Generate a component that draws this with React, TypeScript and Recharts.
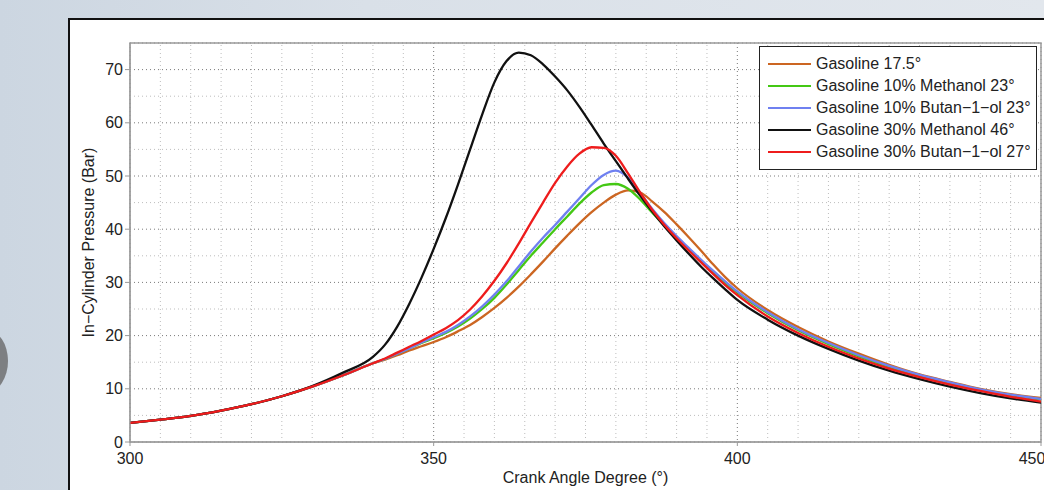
import React from "react";
import {
  CartesianGrid,
  Label,
  Legend,
  Line,
  LineChart,
  ReferenceArea,
  ReferenceLine,
  XAxis,
  YAxis,
} from "recharts";

// crank angle (deg)
const angles = [
  300, 305, 310, 315, 320, 325, 330, 335, 340,
  342, 344, 346, 348, 350, 352, 354, 356, 358, 360, 362, 364, 366, 368, 370,
  372, 374, 376, 378, 380, 382, 384, 386, 388, 390, 392, 394, 396, 398, 400,
  405, 410, 415, 420, 425, 430, 435, 440, 445, 450,
];

// in-cylinder pressure (bar)
const gasoline = [
  3.6, 4.2, 4.9, 5.9, 7.1, 8.6, 10.4, 12.5, 14.8,
  15.5, 16.3, 17.2, 18.0, 18.8, 19.7, 20.8, 22.0, 23.5, 25.2, 27.1, 29.2, 31.5, 33.9, 36.4,
  38.8, 41.1, 43.2, 45.0, 46.5, 47.3, 46.9, 45.2, 43.2, 40.9, 38.5, 36.0, 33.4, 31.0, 28.9,
  24.8, 21.6, 18.9, 16.6, 14.5, 12.7, 11.3, 10.0, 9.0, 8.3,
];
const meth10 = [
  3.6, 4.2, 4.9, 5.9, 7.1, 8.6, 10.4, 12.5, 14.8,
  15.6, 16.6, 17.6, 18.6, 19.5, 20.5, 21.7, 23.2, 25.0, 27.1, 29.6, 32.3, 35.0, 37.5, 40.0,
  42.4, 44.8, 46.9, 48.3, 48.5, 47.6, 45.6, 43.1, 40.7, 38.4, 36.2, 34.0, 31.9, 29.9, 28.1,
  24.2, 21.0, 18.4, 16.1, 14.1, 12.4, 11.0, 9.8, 8.8, 8.0,
];
const but10 = [
  3.6, 4.2, 4.9, 5.9, 7.1, 8.6, 10.4, 12.5, 14.8,
  15.6, 16.6, 17.6, 18.7, 19.7, 20.7, 22.0, 23.6, 25.5, 27.7, 30.2, 33.0, 35.8, 38.4, 40.8,
  43.3, 45.8, 48.3, 50.2, 51.0, 49.7, 46.8, 43.8, 41.1, 38.7, 36.5, 34.3, 32.2, 30.2, 28.3,
  24.4, 21.2, 18.6, 16.3, 14.3, 12.6, 11.2, 9.9, 8.9, 8.1,
];
const meth30 = [
  3.6, 4.2, 4.9, 5.9, 7.1, 8.6, 10.5, 13.0, 16.0,
  18.3, 21.7, 26.0, 30.9, 36.3, 42.1, 48.4, 55.0, 61.6, 67.6, 71.6, 73.2, 72.7, 71.0, 68.7,
  66.1, 63.0, 59.6, 56.1, 52.8, 49.5, 46.3, 43.3, 40.5, 37.9, 35.4, 33.0, 30.8, 28.7, 26.7,
  23.0, 20.0, 17.5, 15.3, 13.4, 11.8, 10.4, 9.2, 8.2, 7.4,
];
const but30 = [
  3.6, 4.2, 4.9, 5.9, 7.1, 8.6, 10.4, 12.5, 14.8,
  15.7, 16.8, 17.9, 19.0, 20.2, 21.4, 22.9, 24.9, 27.4, 30.3, 33.6, 37.3, 41.2, 45.0, 48.7,
  51.8, 54.2, 55.4, 55.3, 53.8, 50.5, 46.9, 43.6, 40.8, 38.3, 36.0, 33.8, 31.6, 29.5, 27.6,
  23.6, 20.5, 17.9, 15.7, 13.8, 12.2, 10.8, 9.6, 8.5, 7.6,
];

const xTicks = [300, 350, 400, 450];
const yTicks = [0, 10, 20, 30, 40, 50, 60, 70];
const xMinor = [305, 310, 315, 320, 325, 330, 335, 340, 345, 355, 360, 365, 370, 375, 380, 385, 390, 395, 405, 410, 415, 420, 425, 430, 435, 440, 445];
const yMinor = [5, 15, 25, 35, 45, 55, 65];

const series = [
  { key: "gasoline", name: "Gasoline 17.5°", color: "#cc6622" },
  { key: "meth10", name: "Gasoline 10% Methanol 23°", color: "#44c814" },
  { key: "but10", name: "Gasoline 10% Butan−1−ol 23°", color: "#6f80f0" },
  { key: "meth30", name: "Gasoline 30% Methanol 46°", color: "#111111" },
  { key: "but30", name: "Gasoline 30% Butan−1−ol 27°", color: "#ee1c1c" },
];

const rows = angles.map((a, i) => ({
  angle: a,
  gasoline: gasoline[i],
  meth10: meth10[i],
  but10: but10[i],
  meth30: meth30[i],
  but30: but30[i],
}));

const font = "'Liberation Sans', Arial, Helvetica, sans-serif";

function LegendBox(props: any) {
  const items = [...(props.payload || [])].sort(
    (a: any, b: any) =>
      series.findIndex((s) => s.name === a.value) - series.findIndex((s) => s.name === b.value)
  );
  return (
    <div
      style={{
        width: 276,
        border: "1px solid #222",
        background: "#fff",
        padding: "6px 0 6px 0",
        fontFamily: font,
        fontSize: 16,
        color: "#222",
      }}
    >
      {items.map((it: any) => (
        <div key={it.value} style={{ display: "flex", alignItems: "center", height: 22 }}>
          <div style={{ width: 43, height: 2.5, background: it.color, marginLeft: 8, marginRight: 5 }} />
          <span style={{ whiteSpace: "nowrap" }}>{it.value}</span>
        </div>
      ))}
    </div>
  );
}

export default function App() {
  return (
    <div
      style={{
        position: "absolute",
        left: 0,
        top: 0,
        width: 1044,
        height: 490,
        overflow: "hidden",
        background: "linear-gradient(to right, #ccd6e1 0%, #d9e0e8 35%, #e2e7ed 100%)",
      }}
    >
      <div
        style={{
          position: "absolute",
          left: -34,
          top: 330,
          width: 42,
          height: 62,
          borderRadius: "50%",
          background: "#7d7f82",
        }}
      />
      <div
        style={{
          position: "absolute",
          left: 68,
          top: 18,
          width: 1000,
          height: 500,
          background: "#fff",
          borderLeft: "2px solid #111",
          borderTop: "2px solid #111",
        }}
      />
      <div style={{ position: "absolute", left: 70, top: 20 }}>
        <LineChart
          width={974}
          height={470}
          data={rows}
          margin={{ top: 23, right: 3, left: 0, bottom: 0 }}
        >
          <CartesianGrid stroke="#7a7a7a" strokeDasharray="1 3" />
          {xMinor.map((v) => (
            <ReferenceLine key={"x" + v} x={v} stroke="#bdbdbd" strokeDasharray="1 3" />
          ))}
          {yMinor.map((v) => (
            <ReferenceLine key={"y" + v} y={v} stroke="#bdbdbd" strokeDasharray="1 3" />
          ))}
          <ReferenceArea x1={300} x2={450} y1={0} y2={75} fill="none" stroke="#9a9a9a" strokeWidth={1.5} />
          <XAxis
            dataKey="angle"
            type="number"
            domain={[300, 450]}
            ticks={xTicks}
            height={48}
            tickSize={4}
            tickMargin={7}
            stroke="#9a9a9a"
            tick={{ fill: "#222", fontSize: 16, fontFamily: font }}
            allowDataOverflow
          >
            <Label
              value="Crank Angle Degree (°)"
              position="insideBottom"
              offset={7}
              style={{ fill: "#222", fontSize: 16, fontFamily: font }}
            />
          </XAxis>
          <YAxis
            type="number"
            domain={[0, 75]}
            ticks={yTicks}
            width={60}
            tickSize={5}
            tickMargin={2}
            stroke="#9a9a9a"
            tick={{ fill: "#222", fontSize: 16, fontFamily: font }}
            allowDataOverflow
          >
            <Label
              value="In−Cylinder Pressure (Bar)"
              angle={-90}
              position="center"
              dx={-12}
              style={{ fill: "#222", fontSize: 16, fontFamily: font }}
            />
          </YAxis>
          <Legend
            layout="vertical"
            align="center"
            verticalAlign="middle"
            content={<LegendBox />}
            wrapperStyle={{ left: 689, top: 26, width: 278 }}
          />
          {series.map((s) => (
            <Line
              key={s.key}
              dataKey={s.key}
              name={s.name}
              type="monotone"
              stroke={s.color}
              strokeWidth={2.3}
              dot={false}
              isAnimationActive={false}
            />
          ))}
        </LineChart>
      </div>
    </div>
  );
}
